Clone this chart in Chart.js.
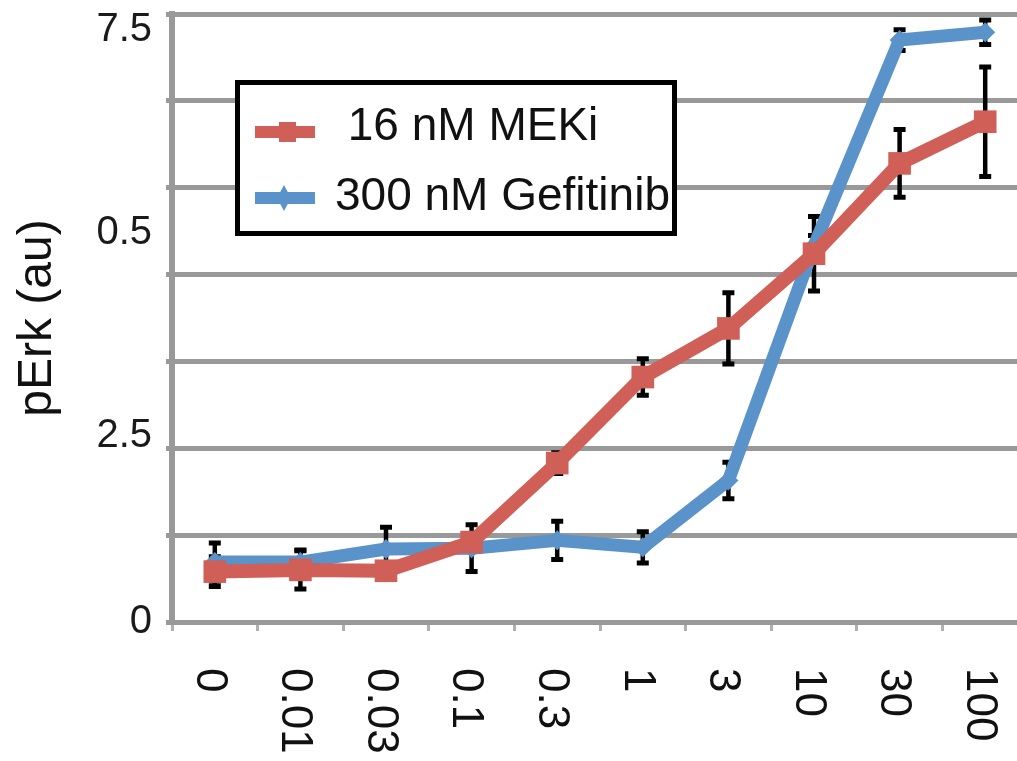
<!DOCTYPE html>
<html>
<head>
<meta charset="utf-8">
<script src="https://cdn.jsdelivr.net/npm/chart.js@4.4.1/dist/chart.umd.min.js"></script>
<style>
html,body{margin:0;padding:0;background:#ffffff;overflow:hidden;width:1017px;height:761px;}
#wrap{position:absolute;left:0;top:0;width:1028px;height:761px;}
</style>
</head>
<body>
<div id="wrap"><canvas id="c"></canvas></div>
<script>
// ---- data ----
const categories   = ['0','0.01','0.03','0.1','0.3','1','3','10','30','100'];
const mekiValues   = [0.58, 0.60, 0.59, 0.92, 1.83, 2.82, 3.38, 4.24, 5.28, 5.76];
const mekiErrors   = [0.17, 0.22, 0.08, 0.10, 0.12, 0.21, 0.41, 0.43, 0.39, 0.63];
const gefValues    = [0.69, 0.69, 0.84, 0.85, 0.94, 0.86, 1.63, 4.33, 6.70, 6.79];
const gefErrors    = [0.22, 0.14, 0.25, 0.27, 0.22, 0.18, 0.21, 0.12, 0.12, 0.14];
const yTickValues  = [0, 2.14, 4.48, 6.82];
const yTickLabels  = ['0', '2.5', '0.5', '7.5'];
const seriesLabels = [' 16 nM MEKi', '300 nM Gefitinib'];
const yTitle       = 'pErk (au)';

// ---- styles ----
const RED = '#CF5F57';
const BLUE = '#5A92CA';
const GRID = '#999999';
const FONT = '"Liberation Sans", Arial, Helvetica, sans-serif';

function noPad(s) { s.paddingTop = 0; s.paddingBottom = 0; s.paddingLeft = 0; s.paddingRight = 0; }

const errorBars = {
  id: 'errorBars',
  beforeDatasetsDraw(chart) {
    const {ctx, scales: {x, y}} = chart;
    ctx.save();
    ctx.strokeStyle = '#000000';
    ctx.lineCap = 'butt';
    chart.data.datasets.forEach(ds => {
      ds.data.forEach((v, i) => {
        const e = ds.errors[i];
        const px = x.getPixelForValue(i);
        const top = y.getPixelForValue(v + e);
        const bot = y.getPixelForValue(v - e);
        ctx.lineWidth = 4.5;
        ctx.beginPath(); ctx.moveTo(px, top); ctx.lineTo(px, bot); ctx.stroke();
        ctx.lineWidth = 5;
        ctx.beginPath();
        ctx.moveTo(px - 6, top); ctx.lineTo(px + 6, top);
        ctx.moveTo(px - 6, bot); ctx.lineTo(px + 6, bot);
        ctx.stroke();
      });
    });
    ctx.restore();
  }
};

const xLabels = {
  id: 'xLabels',
  afterDraw(chart) {
    const s = chart.scales.x;
    const ctx = chart.ctx;
    ctx.save();
    ctx.fillStyle = '#111111';
    ctx.font = '44px ' + FONT;
    ctx.textAlign = 'left';
    ctx.textBaseline = 'middle';
    chart.data.labels.forEach((lab, i) => {
      const px = s.getPixelForTick(i);
      ctx.save();
      ctx.translate(px - 6, s.top + 46);
      ctx.rotate(Math.PI / 2);
      ctx.fillText(lab, 0, 0);
      ctx.restore();
    });
    ctx.restore();
  }
};

const boxLegend = {
  id: 'boxLegend',
  afterDraw(chart) {
    const ctx = chart.ctx;
    const bx = 237.5, by = 82.5, bw = 437, bh = 151;
    const lineY = [132, 198];
    const baseY = [140, 210];
    ctx.save();
    ctx.fillStyle = '#ffffff';
    ctx.fillRect(bx, by, bw, bh);
    ctx.strokeStyle = '#000000';
    ctx.lineWidth = 5;
    ctx.strokeRect(bx, by, bw, bh);
    chart.data.datasets.forEach((ds, i) => {
      const cy = lineY[i];
      ctx.strokeStyle = ds.borderColor;
      ctx.lineWidth = 12;
      ctx.lineCap = 'butt';
      ctx.beginPath(); ctx.moveTo(255, cy); ctx.lineTo(315, cy); ctx.stroke();
      ctx.fillStyle = ds.borderColor;
      if (ds.pointStyle === 'rect') {
        ctx.fillRect(279, cy - 10, 17, 20);
      } else {
        ctx.beginPath();
        ctx.moveTo(284, cy - 13); ctx.lineTo(291, cy);
        ctx.lineTo(284, cy + 13); ctx.lineTo(277, cy);
        ctx.closePath(); ctx.fill();
      }
      ctx.fillStyle = '#111111';
      ctx.font = '46px ' + FONT;
      ctx.textAlign = 'left';
      ctx.textBaseline = 'alphabetic';
      ctx.fillText(ds.label, 335, baseY[i]);
    });
    ctx.restore();
  }
};

new Chart(document.getElementById('c'), {
  type: 'line',
  data: {
    labels: categories,
    datasets: [
      {
        label: seriesLabels[0], data: mekiValues, errors: mekiErrors,
        borderColor: RED, backgroundColor: RED, borderWidth: 14,
        pointStyle: 'rect', pointRadius: 16, pointBackgroundColor: RED,
        pointBorderWidth: 0, pointHoverRadius: 16, tension: 0,
        borderJoinStyle: 'round', fill: false
      },
      {
        label: seriesLabels[1], data: gefValues, errors: gefErrors,
        borderColor: BLUE, backgroundColor: BLUE, borderWidth: 13,
        pointStyle: 'rectRot', pointRadius: 10, pointBackgroundColor: BLUE,
        pointBorderWidth: 0, pointHoverRadius: 10, tension: 0,
        borderJoinStyle: 'round', fill: false
      }
    ]
  },
  options: {
    responsive: true,
    maintainAspectRatio: false,
    animation: false,
    events: [],
    layout: {autoPadding: false, padding: {left: 0, right: 0, top: 14, bottom: 0}},
    plugins: {legend: {display: false}, tooltip: {enabled: false}, title: {display: false}},
    scales: {
      x: {
        type: 'category', offset: true,
        grid: {offset: true, drawOnChartArea: false, drawTicks: true, tickLength: 9, color: '#b0b0b0', lineWidth: 3},
        border: {color: GRID, width: 5},
        ticks: {display: false},
        afterFit(s) { s.height = 139; noPad(s); }
      },
      y: {
        type: 'linear', position: 'left', min: 0, max: 7, weight: 0,
        ticks: {display: false, stepSize: 1},
        grid: {color: GRID, lineWidth: 5, tickLength: 6, drawTicks: true},
        border: {color: GRID, width: 6},
        afterFit(s) { s.width = 6; noPad(s); }
      },
      yl: {
        type: 'linear', position: 'left', min: 0, max: 7, weight: 1,
        grid: {display: false, drawTicks: false},
        border: {display: false},
        ticks: {
          autoSkip: false, padding: 14, color: '#1a1a1a',
          font: {family: FONT, size: 40},
          callback: (v, i) => yTickLabels[i]
        },
        afterBuildTicks(s) { s.ticks = yTickValues.map(v => ({value: v})); },
        title: {display: true, text: yTitle, color: '#111111', font: {family: FONT, size: 48}, padding: {top: 9, bottom: 0}},
        afterFit(s) { s.width = 166; noPad(s); }
      }
    }
  },
  plugins: [errorBars, xLabels, boxLegend]
});
</script>
</body>
</html>
